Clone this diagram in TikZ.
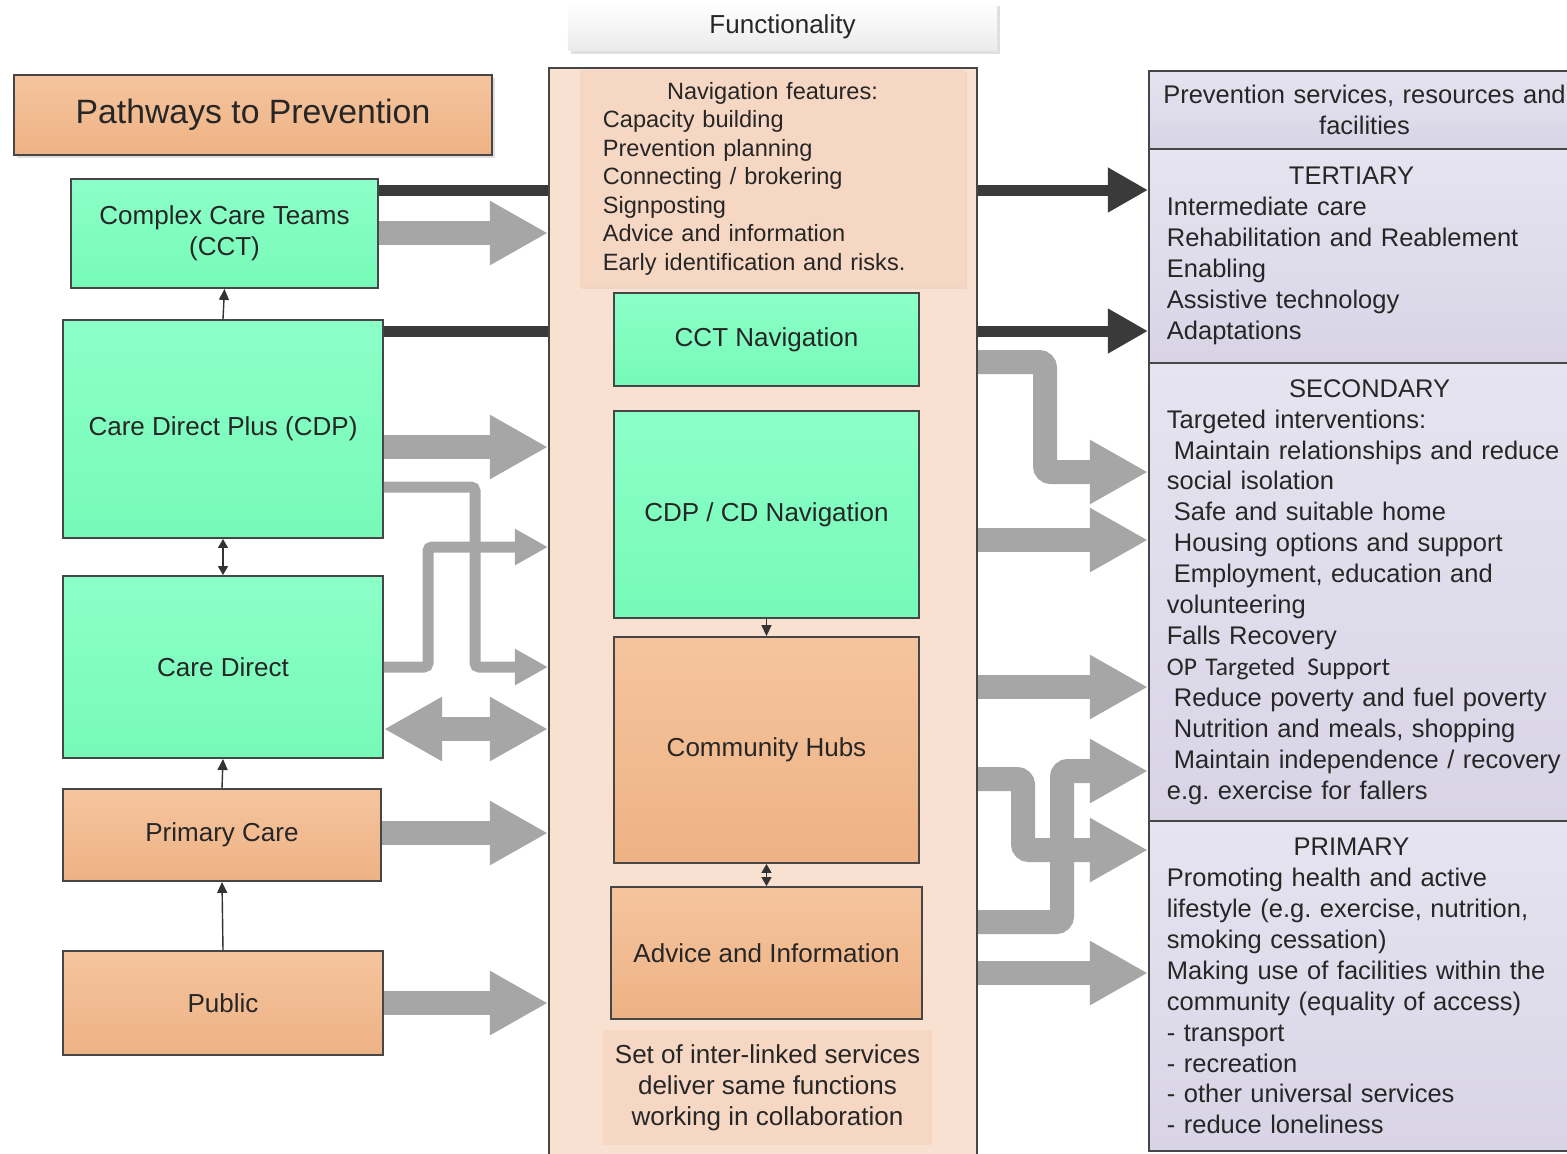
\documentclass[tikz,border=0pt]{standalone}
\usepackage{fontspec}
\setmainfont{Liberation Sans}
\newfontfamily\carlito{Carlito}
\usetikzlibrary{arrows.meta,shadows}

\definecolor{minttop}{RGB}{140,255,200}
\definecolor{mintbot}{RGB}{118,250,184}
\definecolor{apricottop}{RGB}{245,196,158}
\definecolor{apricotbot}{RGB}{238,178,132}
\definecolor{peach}{RGB}{249,225,210}
\definecolor{peachpanel}{RGB}{246,215,195}
\definecolor{lavtop}{RGB}{230,228,240}
\definecolor{lavbot}{RGB}{216,212,230}
\definecolor{arrowgray}{RGB}{166,166,166}
\definecolor{bargray}{RGB}{58,58,58}
\definecolor{edgegray}{RGB}{70,70,70}

\newcommand{\boxfont}{\fontsize{7.4}{8.8}\selectfont}
\newcommand{\tierfont}{\fontsize{7.25}{8.8}\selectfont}
\newcommand{\navfont}{\fontsize{6.7}{8.1}\selectfont}
\newcommand{\tierhead}[2][0cm]{\makebox[3.95cm]{\hspace*{#1}#2}}

\tikzstyle{block} = [rectangle, draw=edgegray, line width=0.5pt, text=black!85,
    font=\boxfont, align=center, inner sep=0pt]
\tikzstyle{greenblock} = [block, top color=minttop, bottom color=mintbot]
\tikzstyle{orangeblock} = [block, top color=apricottop, bottom color=apricotbot]
\tikzstyle{tierbox} = [rectangle, draw=edgegray, line width=0.5pt, top color=lavtop,
    bottom color=lavbot, anchor=north west, minimum width=4.96cm, text width=4.6cm,
    inner xsep=0.18cm, align=left, font=\tierfont, text=black!85]
\tikzstyle{softshadow} = [drop shadow={opacity=0.25, shadow xshift=0.03cm, shadow yshift=-0.03cm}]
\tikzstyle{bigarrow} = [draw=arrowgray, line width=0.24cm, rounded corners=0.06cm,
    -{Triangle[length=0.58cm,width=0.6cm]}]
\tikzstyle{slimarrow} = [draw=arrowgray, line width=0.11cm, rounded corners=0.04cm,
    -{Triangle[length=0.33cm,width=0.34cm]}]
\tikzstyle{darkbar} = [draw=bargray, line width=0.11cm, -{Triangle[length=0.4cm,width=0.42cm]}]
\tikzstyle{link} = [draw=black!80, line width=0.4pt, -{Triangle[length=0.11cm,width=0.1cm]}]
\tikzstyle{dlink} = [link, {Triangle[length=0.09cm,width=0.1cm]}-{Triangle[length=0.09cm,width=0.1cm]}]

\begin{document}
\begin{tikzpicture}[x=0.01cm, y=-0.01cm]
  \useasboundingbox (0,0) rectangle (1567,1153);

  % pathways
  \node[orangeblock, softshadow, minimum width=4.78cm, minimum height=0.8cm,
        font=\fontsize{9.6}{11}\selectfont] (pathways) at (253,115) {Pathways to Prevention};
  \node[greenblock, minimum width=3.07cm, minimum height=1.09cm] (cct)    at (224.5,233.5) {Complex Care Teams\\(CCT)};
  \node[greenblock, minimum width=3.2cm,  minimum height=2.18cm] (cdp)    at (223,429)     {Care Direct Plus (CDP)};
  \node[greenblock, minimum width=3.2cm,  minimum height=1.82cm] (cd)     at (223,667)     {Care Direct};
  \node[orangeblock, minimum width=3.18cm, minimum height=0.92cm] (pcare) at (222,835)     {Primary Care};
  \node[orangeblock, minimum width=3.2cm, minimum height=1.04cm] (public) at (223,1003)    {Public};

  % prevention levels
  \node[tierbox, minimum height=0.78cm] (servhead) at (1148,70)
        {\tierhead{Prevention services, resources and}\\\tierhead{facilities}};
  \node[tierbox, minimum height=2.14cm] (tert) at (1148,148)
        {\tierhead[-0.26cm]{TERTIARY}\\
         Intermediate care\\Rehabilitation and Reablement\\Enabling\\
         Assistive technology\\Adaptations};
  \node[tierbox, minimum height=4.58cm] (sec) at (1148,362)
        {\tierhead[0.1cm]{SECONDARY}\\
         Targeted interventions:\\
         \hspace*{0.07cm}Maintain relationships and reduce\\social isolation\\
         \hspace*{0.07cm}Safe and suitable home\\
         \hspace*{0.07cm}Housing options and support\\
         \hspace*{0.07cm}Employment, education and\\volunteering\\
         Falls Recovery\\
         {\carlito OP Targeted\hspace{0.12cm}Support}\\
         \hspace*{0.07cm}Reduce poverty and fuel poverty\\
         \hspace*{0.07cm}Nutrition and meals, shopping\\
         \hspace*{0.07cm}Maintain independence / recovery\\
         e.g.\ exercise for fallers};
  \node[tierbox, minimum height=3.3cm] (prim) at (1148,820)
        {\tierhead[-0.26cm]{PRIMARY}\\
         Promoting health and active\\lifestyle (e.g.\ exercise, nutrition,\\
         smoking cessation)\\Making use of facilities within the\\
         community (equality of access)\\- transport\\- recreation\\
         - other universal services\\- reduce loneliness};

  % dark bars run behind the functionality column
  \draw[darkbar] (cct.east |- 0,190) -- (tert.west |- 0,190);
  \draw[darkbar] (cdp.east |- 0,331) -- (tert.west |- 0,331);

  % functionality
  \node[rectangle, top color=white, bottom color=black!8, softshadow, minimum width=4.29cm,
        minimum height=0.45cm, font=\boxfont, text=black!85] (funclabel) at (782.5,27) {Functionality};
  \node[rectangle, draw=edgegray, line width=0.5pt, fill=peach, minimum width=4.28cm,
        minimum height=11cm, inner sep=0pt] (navcol) at (763,618) {};
  \node[rectangle, fill=peachpanel, drop shadow={opacity=0.12, shadow xshift=0.02cm, shadow yshift=-0.02cm},
        minimum width=3.85cm, minimum height=1.87cm, text width=3.39cm, inner xsep=0.23cm,
        align=left, font=\navfont, text=black!85] (navfeat) at (772.5,178.5)
        {\makebox[\linewidth]{Navigation features:}\\Capacity building\\Prevention planning\\
         Connecting / brokering\\Signposting\\Advice and information\\Early identification and risks.};
  \node[greenblock, minimum width=3.05cm, minimum height=0.93cm] (cctnav) at (766.5,339.5) {CCT Navigation};
  \node[greenblock, minimum width=3.05cm, minimum height=2.07cm] (cdpnav) at (766.5,514.5) {CDP / CD Navigation};
  \node[orangeblock, minimum width=3.05cm, minimum height=2.26cm] (hubs)  at (766.5,750)   {Community Hubs};
  \node[orangeblock, minimum width=3.11cm, minimum height=1.32cm] (advice) at (766.5,953)  {Advice and Information};
  \node[rectangle, fill=peachpanel, minimum width=3.15cm, minimum height=1.15cm, align=center,
        font=\boxfont, text=black!85] (collab) at (767.5,1087.5)
        {Set of inter-linked services\\deliver same functions\\working in collaboration};

  % pathways into functionality
  \draw[bigarrow] (cct.east |- 0,233) -- (navcol.west |- 0,233);
  \draw[bigarrow] (cdp.east |- 0,447) -- (navcol.west |- 0,447);
  \draw[slimarrow] (cdp.east |- 0,487) -| (475,667) -- (navcol.west |- 0,667);
  \draw[slimarrow] (cd.east |- 0,667) -| (428,547) -- (navcol.west |- 0,547);
  \draw[bigarrow, {Triangle[length=0.58cm,width=0.6cm]}-{Triangle[length=0.58cm,width=0.6cm]}]
        (cd.east |- 0,729) -- (navcol.west |- 0,729);
  \draw[bigarrow] (pcare.east |- 0,833) -- (navcol.west |- 0,833);
  \draw[bigarrow] (public.east |- 0,1003) -- (navcol.west |- 0,1003);

  % functionality into prevention levels
  \draw[bigarrow] (navcol.east |- 0,362) -| (1045,472) -- (sec.west |- 0,472);
  \draw[bigarrow] (navcol.east |- 0,540) -- (sec.west |- 0,540);
  \draw[bigarrow] (navcol.east |- 0,687) -- (sec.west |- 0,687);
  \draw[bigarrow] (navcol.east |- 0,779) -| (1023,850) -- (prim.west |- 0,850);
  \draw[bigarrow] (navcol.east |- 0,922) -| (1062,771) -- (sec.west |- 0,771);
  \draw[bigarrow] (navcol.east |- 0,973) -- (prim.west |- 0,973);

  % links between boxes
  \draw[link] (cdp.north) -- (cct.south);
  \draw[dlink] (cdp.south) -- (cd.north);
  \draw[link] (pcare.north) -- (cd.south);
  \draw[link] (public.north) -- (pcare.south);
  \draw[link] (cdpnav.south) -- (hubs.north);
  \draw[dlink] (hubs.south) -- (advice.north);
\end{tikzpicture}
\end{document}
